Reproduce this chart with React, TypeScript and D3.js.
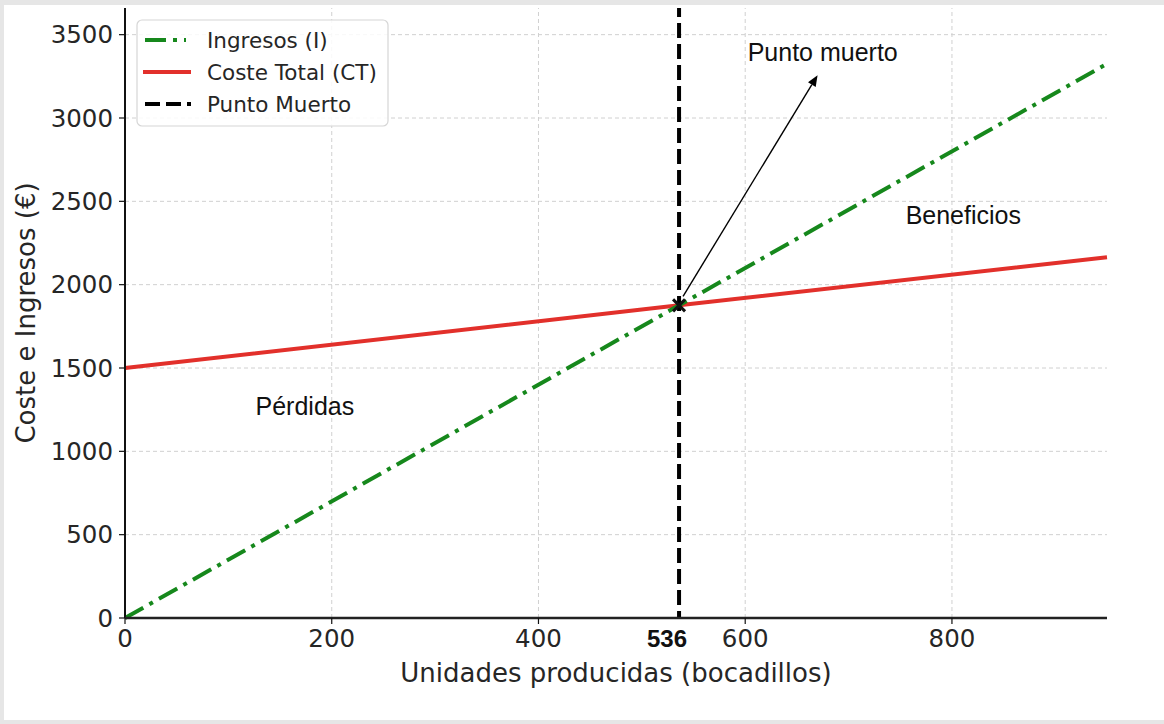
import React from 'react';
import * as d3 from 'd3';

// unidades producidas y valores (€)
const unidades = [0, 536, 950];
const ingresos = [0, 1876, 3325];
const costeTotal = [1500, 1876, 2165];

const puntoMuertoX = 536;
const puntoMuertoY = 1876;

const xTicks = [0, 200, 400, 600, 800];
const yTicks = [0, 500, 1000, 1500, 2000, 2500, 3000, 3500];

const legendItems = ['Ingresos (I)', 'Coste Total (CT)', 'Punto Muerto'];

const W = 1164;
const H = 724;
const margin = { left: 125, right: 57, top: 8, bottom: 106 };

const GREEN = '#16881c';
const RED = '#e2302b';
const TXT = '#262626';
const DEJAVU = '"DejaVu Sans", sans-serif';
const ARIAL = '"Liberation Sans", Arial, sans-serif';

export default function App() {
  const x = d3.scaleLinear().domain([0, 950]).range([margin.left, W - margin.right]);
  const y = d3.scaleLinear().domain([0, 3660]).range([H - margin.bottom, margin.top]);

  const ingresosPts: [number, number][] = unidades.map((u, i) => [u, ingresos[i]]);
  const costePts: [number, number][] = unidades.map((u, i) => [u, costeTotal[i]]);
  const line = d3
    .line<[number, number]>()
    .x((d) => x(d[0]))
    .y((d) => y(d[1]));

  const x0 = x.range()[0];
  const x1 = x.range()[1];
  const y0 = y.range()[0];
  const y1 = y.range()[1];

  // arrow from the break-even point toward the label
  const ax0 = x(puntoMuertoX) + 4;
  const ay0 = y(puntoMuertoY) - 9;
  const ax1 = x(670);
  const ay1 = y(3257);
  const ang = Math.atan2(ay1 - ay0, ax1 - ax0);
  const head = 11;
  const hw = 4.5;
  const bx = ax1 - head * Math.cos(ang);
  const by = ay1 - head * Math.sin(ang);
  const headPts = [
    [ax1, ay1],
    [bx + hw * Math.sin(ang), by - hw * Math.cos(ang)],
    [bx - hw * Math.sin(ang), by + hw * Math.cos(ang)],
  ]
    .map((p) => p.join(','))
    .join(' ');

  const mx = x(puntoMuertoX);
  const my = y(puntoMuertoY);

  return (
    <svg
      width={W}
      height={H}
      style={{ position: 'absolute', left: 0, top: 0, background: '#fff' }}
    >
      {/* light frame */}
      <rect x={0} y={0} width={W} height={5} fill="#e6e6e6" />
      <rect x={0} y={0} width={4} height={H} fill="#e6e6e6" />
      <rect x={0} y={H - 4} width={W} height={4} fill="#e6e6e6" />

      {/* grid */}
      {xTicks
        .filter((t) => t > 0)
        .map((t) => (
          <line
            key={'gx' + t}
            x1={x(t)}
            x2={x(t)}
            y1={y0}
            y2={y1}
            stroke="#d0d0d0"
            strokeWidth={1}
            strokeDasharray="4,3"
          />
        ))}
      {yTicks
        .filter((t) => t > 0)
        .map((t) => (
          <line
            key={'gy' + t}
            x1={x0}
            x2={x1}
            y1={y(t)}
            y2={y(t)}
            stroke="#d0d0d0"
            strokeWidth={1}
            strokeDasharray="4,3"
          />
        ))}

      {/* series */}
      <path
        d={line(costePts) || ''}
        fill="none"
        stroke={RED}
        strokeWidth={4}
      />
      <path
        d={line(ingresosPts) || ''}
        fill="none"
        stroke={GREEN}
        strokeWidth={4}
        strokeDasharray="21,7,4,7"
      />
      <line
        x1={mx}
        x2={mx}
        y1={y0}
        y2={y1}
        stroke="#000"
        strokeWidth={4}
        strokeDasharray="15,6"
        strokeDashoffset={8}
      />

      {/* break-even marker */}
      <g stroke="#111" strokeWidth={3}>
        <line x1={mx - 6} y1={my - 6} x2={mx + 6} y2={my + 6} />
        <line x1={mx - 6} y1={my + 6} x2={mx + 6} y2={my - 6} />
      </g>

      {/* annotation arrow */}
      <line x1={ax0} y1={ay0} x2={bx} y2={by} stroke="#000" strokeWidth={1.4} />
      <polygon points={headPts} fill="#000" />

      {/* annotation texts */}
      <g fontFamily={ARIAL} fontSize={25} fill="#111">
        <text x={x(675)} y={y(3341)} textAnchor="middle">Punto muerto</text>
        <text x={x(811)} y={y(2364)} textAnchor="middle">Beneficios</text>
        <text x={x(174)} y={y(1218)} textAnchor="middle">Pérdidas</text>
      </g>

      {/* spines */}
      <line x1={x0} x2={x0} y1={y0} y2={y1} stroke="#111" strokeWidth={2} />
      <line x1={x0} x2={x1} y1={y0} y2={y0} stroke="#222" strokeWidth={2.5} />

      {/* x ticks */}
      {xTicks.map((t) => (
        <g key={'tx' + t}>
          <line x1={x(t)} x2={x(t)} y1={y0} y2={y0 + 6} stroke="#111" strokeWidth={1.2} />
          <text
            x={x(t)}
            y={y0 + 29}
            textAnchor="middle"
            fontFamily={DEJAVU}
            fontSize={24.5}
            fill={TXT}
          >
            {t}
          </text>
        </g>
      ))}
      <text
        x={mx + 8}
        y={y0 + 29}
        textAnchor="end"
        fontFamily={ARIAL}
        fontWeight="bold"
        fontSize={24}
        fill="#111"
      >
        {puntoMuertoX}
      </text>

      {/* y ticks */}
      {yTicks.map((t) => (
        <g key={'ty' + t}>
          <line x1={x0 - 6} x2={x0} y1={y(t)} y2={y(t)} stroke="#111" strokeWidth={1.2} />
          <text
            x={x0 - 12}
            y={y(t)}
            dy="0.36em"
            textAnchor="end"
            fontFamily={DEJAVU}
            fontSize={24.5}
            fill={TXT}
          >
            {t}
          </text>
        </g>
      ))}

      {/* axis labels */}
      <text
        x={(x0 + x1) / 2}
        y={682}
        textAnchor="middle"
        fontFamily={DEJAVU}
        fontSize={26}
        fill={TXT}
      >
        Unidades producidas (bocadillos)
      </text>
      <text
        transform={`translate(35, ${(y0 + y1) / 2}) rotate(-90)`}
        textAnchor="middle"
        fontFamily={DEJAVU}
        fontSize={26}
        fill={TXT}
      >
        Coste e Ingresos (€)
      </text>

      {/* legend */}
      <g>
        <rect
          x={137}
          y={20}
          width={251}
          height={106}
          rx={5}
          fill="#fff"
          fillOpacity={0.85}
          stroke="#d6d6d6"
          strokeWidth={1.2}
        />
        {legendItems.map((label, i) => {
          const ly = 40 + i * 32;
          return (
            <g key={label}>
              {i === 0 && (
                <line
                  x1={145}
                  x2={186}
                  y1={ly}
                  y2={ly}
                  stroke={GREEN}
                  strokeWidth={4}
                  strokeDasharray="21,7,4,7"
                />
              )}
              {i === 1 && (
                <line x1={143} x2={191} y1={ly} y2={ly} stroke={RED} strokeWidth={4} />
              )}
              {i === 2 && (
                <line
                  x1={145}
                  x2={191}
                  y1={ly}
                  y2={ly}
                  stroke="#000"
                  strokeWidth={4}
                  strokeDasharray="15,6"
                />
              )}
              <text
                x={207}
                y={ly}
                dy="0.36em"
                fontFamily={DEJAVU}
                fontSize={21.5}
                fill={TXT}
              >
                {label}
              </text>
            </g>
          );
        })}
      </g>
    </svg>
  );
}
